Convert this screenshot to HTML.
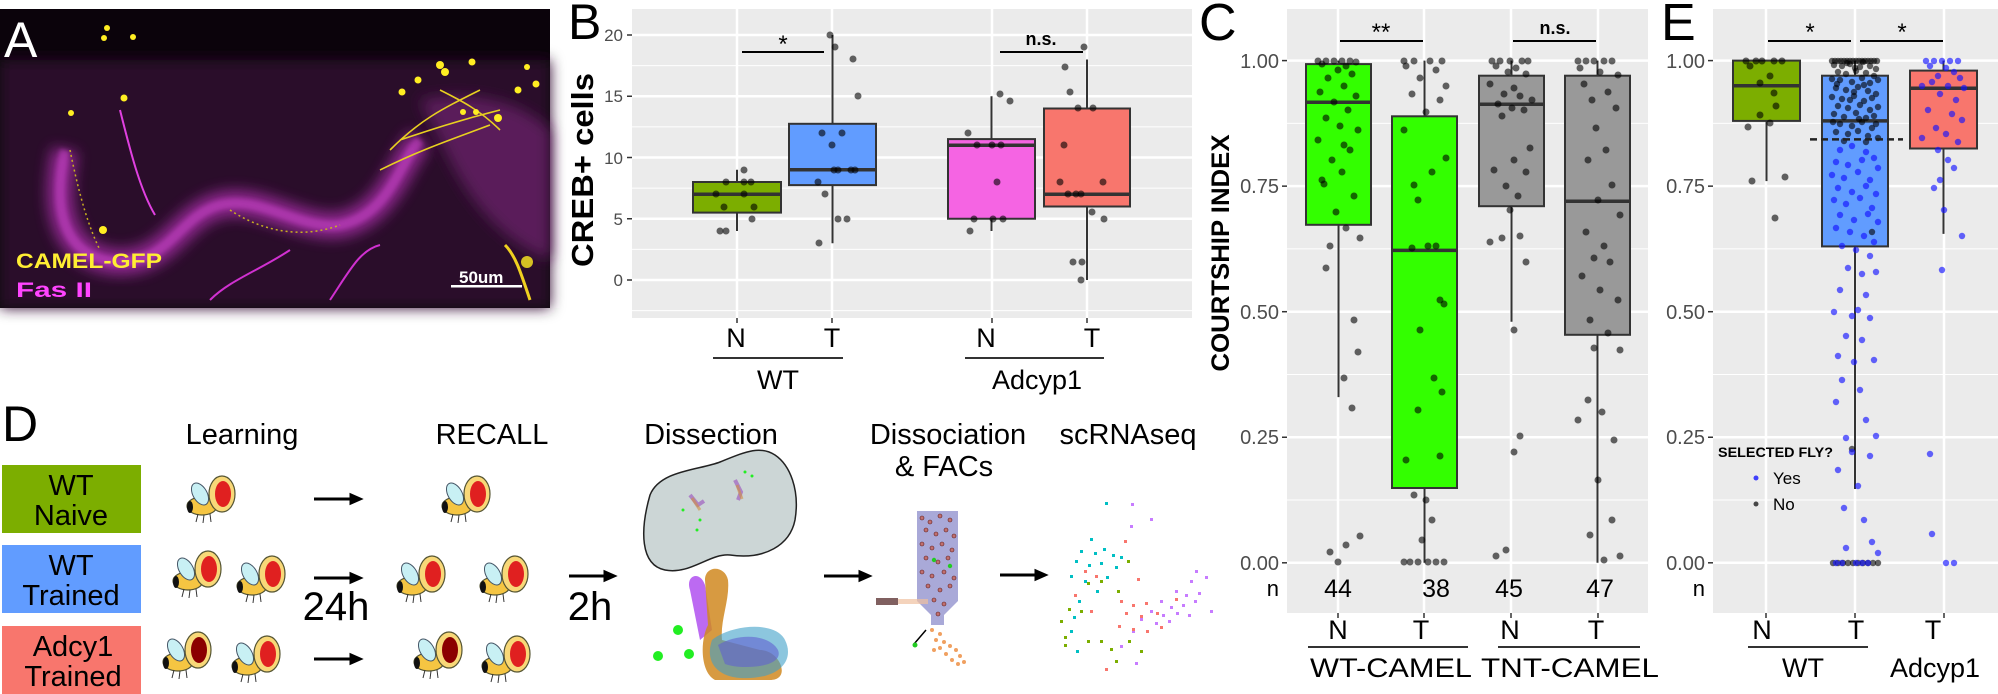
<!DOCTYPE html>
<html><head><meta charset="utf-8"><style>
html,body{margin:0;padding:0;background:#fff;}
svg{display:block;font-family:"Liberation Sans",sans-serif;}
.k{fill:rgba(0,0,0,0.6)}
.b{fill:rgba(20,20,255,0.65)}
.gw{stroke:#fff;stroke-width:2.5}
.gm{stroke:#fff;stroke-width:1}
.tk{stroke:#333;stroke-width:1.5}
.tl{fill:#4d4d4d;font-size:20px;text-anchor:end}
.bx{stroke:#333;stroke-width:2}
.md{stroke:#333;stroke-width:3.5}
.ax{font-size:27px;text-anchor:middle}
.nn{font-size:25px;text-anchor:middle}
</style></head><body>
<svg width="1998" height="694" viewBox="0 0 1998 694" xmlns="http://www.w3.org/2000/svg">
<defs>
<filter id="bl" x="-20%" y="-20%" width="140%" height="140%"><feGaussianBlur stdDeviation="7"/></filter>
<filter id="bl2"><feGaussianBlur stdDeviation="2"/></filter>
<g id="fly">
<ellipse cx="-8" cy="6" rx="15" ry="9" fill="#f5c542" stroke="#553" stroke-width="1.2"/>
<ellipse cx="-20" cy="7" rx="3" ry="6" fill="#111"/>
<ellipse cx="-10" cy="-6" rx="7" ry="12" fill="#c8f0f4" stroke="#456" stroke-width="1" transform="rotate(-30 -10 -6)"/>
<ellipse cx="12" cy="-6" rx="13" ry="18" fill="#f8d878" stroke="#553" stroke-width="1.2"/>
<path d="M-12,14 l-2,8 M-6,15 l-1,8 M0,14 l1,8" stroke="#333" stroke-width="1"/>
</g>
</defs>
<!-- Panel A -->
<rect x="0" y="9" width="550" height="299" fill="#0b030b"/>
<rect x="0" y="60" width="550" height="248" fill="#2a0a2a" filter="url(#bl)"/>
<path d="M65,150 C50,220 70,260 120,262 C170,262 180,215 220,205 C260,195 300,230 340,225 C390,215 400,160 420,140" stroke="#9a2a9a" stroke-width="26" fill="none" filter="url(#bl)" opacity="0.9"/>
<path d="M65,150 C50,220 70,260 120,262 C170,262 180,215 220,205 C260,195 300,230 340,225 C390,215 400,160 420,140" stroke="#c040c0" stroke-width="10" fill="none" filter="url(#bl2)" opacity="0.6"/>
<path d="M420,100 C470,90 520,100 550,130 L550,260 C500,240 470,200 450,160Z" fill="#5a1a5a" filter="url(#bl)"/>
<path d="M120,110 C130,150 140,190 155,215" stroke="#e040e0" stroke-width="2" fill="none"/>
<path d="M210,300 C230,280 260,270 290,250 M330,300 C350,270 360,250 380,245" stroke="#d030d0" stroke-width="2" fill="none"/>
<path d="M390,150 C420,120 440,110 480,90 M400,140 C430,130 460,120 500,110 M380,170 C420,150 450,140 490,125 M440,90 C460,100 480,110 500,130" stroke="#e8d020" stroke-width="1.6" fill="none"/>
<path d="M70,150 C80,200 90,230 100,250 M230,210 C260,230 300,240 340,225" stroke="#c8b020" stroke-width="1.5" fill="none" stroke-dasharray="2 3"/>
<path d="M505,245 C515,255 520,270 530,300" stroke="#f0d020" stroke-width="3" fill="none"/>
<g fill="#ffee22">
<circle cx="107" cy="28" r="3"/><circle cx="104" cy="38" r="3"/><circle cx="133" cy="37" r="3"/><circle cx="124" cy="98" r="3.5"/><circle cx="71" cy="113" r="3"/><circle cx="103" cy="230" r="4"/>
<circle cx="440" cy="65" r="4"/><circle cx="445" cy="72" r="4"/><circle cx="418" cy="80" r="3.5"/><circle cx="402" cy="92" r="3.5"/><circle cx="472" cy="62" r="3.5"/><circle cx="527" cy="67" r="3"/><circle cx="536" cy="84" r="3.5"/><circle cx="518" cy="90" r="3.5"/><circle cx="463" cy="112" r="3"/><circle cx="476" cy="112" r="3"/><circle cx="498" cy="118" r="4"/>
<circle cx="527" cy="262" r="6" opacity="0.8"/>
</g>
<text x="4" y="57" font-size="50" fill="#fff">A</text>
<text x="16" y="268" font-size="21" font-weight="bold" fill="#ffee33" textLength="146" lengthAdjust="spacingAndGlyphs">CAMEL-GFP</text>
<text x="16" y="297" font-size="21" font-weight="bold" fill="#ff44ff" textLength="76" lengthAdjust="spacingAndGlyphs">Fas II</text>
<text x="459" y="283" font-size="17" font-weight="bold" fill="#fff">50um</text>
<rect x="451" y="285" width="71" height="2.5" fill="#fff"/>

<!-- Panel B -->
<text x="568" y="39" font-size="50">B</text>
<rect x="632" y="9" width="560" height="309" fill="#ebebeb"/>
<g class="gm"><line x1="632" x2="1192" y1="310.6" y2="310.6"/><line x1="632" x2="1192" y1="249.4" y2="249.4"/><line x1="632" x2="1192" y1="188.1" y2="188.1"/><line x1="632" x2="1192" y1="126.9" y2="126.9"/><line x1="632" x2="1192" y1="65.6" y2="65.6"/></g>
<g class="gw"><line x1="632" x2="1192" y1="280" y2="280"/><line x1="632" x2="1192" y1="218.75" y2="218.75"/><line x1="632" x2="1192" y1="157.5" y2="157.5"/><line x1="632" x2="1192" y1="96.25" y2="96.25"/><line x1="632" x2="1192" y1="35" y2="35"/>
<line x1="737" x2="737" y1="9" y2="318"/><line x1="832" x2="832" y1="9" y2="318"/><line x1="992" x2="992" y1="9" y2="318"/><line x1="1087" x2="1087" y1="9" y2="318"/></g>
<g class="tk"><line x1="627" x2="632" y1="280" y2="280"/><line x1="627" x2="632" y1="218.75" y2="218.75"/><line x1="627" x2="632" y1="157.5" y2="157.5"/><line x1="627" x2="632" y1="96.25" y2="96.25"/><line x1="627" x2="632" y1="35" y2="35"/>
<line x1="737" x2="737" y1="318" y2="323"/><line x1="832" x2="832" y1="318" y2="323"/><line x1="992" x2="992" y1="318" y2="323"/><line x1="1087" x2="1087" y1="318" y2="323"/></g>
<g class="tl" style="font-size:17px"><text x="623" y="286">0</text><text x="623" y="225">5</text><text x="623" y="164">10</text><text x="623" y="102">15</text><text x="623" y="41">20</text></g>
<text transform="translate(593,170) rotate(-90)" text-anchor="middle" font-size="31" font-weight="bold" textLength="194" lengthAdjust="spacingAndGlyphs">CREB+ cells</text>
<g class="bx">
<line x1="737" x2="737" y1="169.75" y2="231"/><rect x="693" y="182" width="88" height="30.6" fill="#7cae00"/>
<line x1="832.5" x2="832.5" y1="35" y2="243.25"/><rect x="789" y="123.8" width="87" height="61.3" fill="#619cff"/>
<line x1="991.5" x2="991.5" y1="96.25" y2="231"/><rect x="948" y="139.1" width="87" height="79.65" fill="#f564e3"/>
<line x1="1087" x2="1087" y1="59.5" y2="280"/><rect x="1044" y="108.5" width="86" height="98" fill="#f8766d"/>
</g>
<g class="md"><line x1="693" x2="781" y1="194.25" y2="194.25"/><line x1="789" x2="876" y1="169.75" y2="169.75"/><line x1="948" x2="1035" y1="145.25" y2="145.25"/><line x1="1044" x2="1130" y1="194.25" y2="194.25"/></g>
<g class="k">
<circle cx="720" cy="231" r="3.5"/><circle cx="726" cy="231" r="3.5"/><circle cx="752" cy="219" r="3.5"/><circle cx="724" cy="207" r="3.5"/><circle cx="754" cy="207" r="3.5"/><circle cx="716" cy="194" r="3.5"/><circle cx="744" cy="194" r="3.5"/><circle cx="726" cy="182" r="3.5"/><circle cx="744" cy="182" r="3.5"/><circle cx="751" cy="182" r="3.5"/><circle cx="744" cy="170" r="3.5"/>
<circle cx="819" cy="243" r="3.5"/><circle cx="838" cy="219" r="3.5"/><circle cx="847" cy="219" r="3.5"/><circle cx="825" cy="194" r="3.5"/><circle cx="818" cy="182" r="3.5"/><circle cx="834" cy="170" r="3.5"/><circle cx="838" cy="170" r="3.5"/><circle cx="851" cy="170" r="3.5"/><circle cx="855" cy="170" r="3.5"/><circle cx="832" cy="145" r="3.5"/><circle cx="822" cy="133" r="3.5"/><circle cx="842" cy="133" r="3.5"/><circle cx="858" cy="96" r="3.5"/><circle cx="853" cy="59" r="3.5"/><circle cx="835" cy="47" r="3.5"/><circle cx="830" cy="35" r="3.5"/>
<circle cx="970" cy="231" r="3.5"/><circle cx="974" cy="219" r="3.5"/><circle cx="993" cy="219" r="3.5"/><circle cx="1003" cy="219" r="3.5"/><circle cx="997" cy="182" r="3.5"/><circle cx="977" cy="145" r="3.5"/><circle cx="992" cy="145" r="3.5"/><circle cx="1001" cy="145" r="3.5"/><circle cx="968" cy="133" r="3.5"/><circle cx="1010" cy="101" r="3.5"/><circle cx="1000" cy="94" r="3.5"/>
<circle cx="1081" cy="280" r="3.5"/><circle cx="1073" cy="262" r="3.5"/><circle cx="1082" cy="262" r="3.5"/><circle cx="1104" cy="219" r="3.5"/><circle cx="1092" cy="212" r="3.5"/><circle cx="1068" cy="194" r="3.5"/><circle cx="1076" cy="194" r="3.5"/><circle cx="1081" cy="194" r="3.5"/><circle cx="1060" cy="182" r="3.5"/><circle cx="1103" cy="182" r="3.5"/><circle cx="1064" cy="145" r="3.5"/><circle cx="1078" cy="108" r="3.5"/><circle cx="1093" cy="108" r="3.5"/><circle cx="1070" cy="92" r="3.5"/><circle cx="1065" cy="67" r="3.5"/><circle cx="1084" cy="47" r="3.5"/>
</g>
<line x1="742" x2="824" y1="52" y2="52" stroke="#000" stroke-width="2"/>
<text x="783" y="52" font-size="24" text-anchor="middle">*</text>
<line x1="1000" x2="1083" y1="52" y2="52" stroke="#000" stroke-width="2"/>
<text x="1041" y="45" font-size="18" font-weight="bold" text-anchor="middle">n.s.</text>
<g class="ax"><text x="736" y="347">N</text><text x="832" y="347">T</text><text x="986" y="347">N</text><text x="1092" y="347">T</text><text x="778" y="389">WT</text><text x="1037" y="389">Adcyp1</text></g>
<line x1="713" x2="843" y1="358" y2="358" stroke="#333" stroke-width="2"/>
<line x1="965" x2="1104" y1="358" y2="358" stroke="#333" stroke-width="2"/>

<!-- Panel C -->
<text x="1199" y="40" font-size="52">C</text>
<rect x="1287" y="9" width="361" height="604" fill="#ebebeb"/>
<g class="gm"><line x1="1287" x2="1648" y1="500" y2="500"/><line x1="1287" x2="1648" y1="374.5" y2="374.5"/><line x1="1287" x2="1648" y1="248.9" y2="248.9"/><line x1="1287" x2="1648" y1="123.4" y2="123.4"/></g>
<g class="gw"><line x1="1287" x2="1648" y1="562.8" y2="562.8"/><line x1="1287" x2="1648" y1="437.25" y2="437.25"/><line x1="1287" x2="1648" y1="311.7" y2="311.7"/><line x1="1287" x2="1648" y1="186.15" y2="186.15"/><line x1="1287" x2="1648" y1="60.6" y2="60.6"/>
<line x1="1338" x2="1338" y1="9" y2="613"/><line x1="1424" x2="1424" y1="9" y2="613"/><line x1="1511" x2="1511" y1="9" y2="613"/><line x1="1598" x2="1598" y1="9" y2="613"/></g>
<g class="tk"><line x1="1282" x2="1287" y1="562.8" y2="562.8"/><line x1="1282" x2="1287" y1="437.25" y2="437.25"/><line x1="1282" x2="1287" y1="311.7" y2="311.7"/><line x1="1282" x2="1287" y1="186.15" y2="186.15"/><line x1="1282" x2="1287" y1="60.6" y2="60.6"/>
<line x1="1338" x2="1338" y1="613" y2="618"/><line x1="1424" x2="1424" y1="613" y2="618"/><line x1="1511" x2="1511" y1="613" y2="618"/><line x1="1598" x2="1598" y1="613" y2="618"/></g>
<g class="tl"><text x="1279" y="570">0.00</text><text x="1279" y="444">0.25</text><text x="1279" y="319">0.50</text><text x="1279" y="193">0.75</text><text x="1279" y="68">1.00</text><text x="1279" y="596" style="fill:#000;font-size:22px">n</text></g>
<text transform="translate(1229,253) rotate(-90)" text-anchor="middle" font-size="25" font-weight="bold" textLength="237" lengthAdjust="spacingAndGlyphs">COURTSHIP INDEX</text>
<g class="bx">
<line x1="1338.5" x2="1338.5" y1="60.6" y2="397.1"/><rect x="1306" y="64.1" width="65" height="160.7" fill="#33ff00"/>
<line x1="1424.5" x2="1424.5" y1="60.6" y2="562.8"/><rect x="1392" y="116.3" width="65" height="371.7" fill="#33ff00"/>
<line x1="1511.5" x2="1511.5" y1="60.6" y2="321.7"/><rect x="1479" y="75.7" width="65" height="130.5" fill="#999"/>
<line x1="1597.5" x2="1597.5" y1="60.6" y2="562.8"/><rect x="1565" y="75.7" width="65" height="259.1" fill="#999"/>
</g>
<g class="md"><line x1="1306" x2="1371" y1="102.3" y2="102.3"/><line x1="1392" x2="1457" y1="250.4" y2="250.4"/><line x1="1479" x2="1544" y1="104.3" y2="104.3"/><line x1="1565" x2="1630" y1="201.2" y2="201.2"/></g>
<g class="k">
<circle cx="1318" cy="61" r="3.5"/><circle cx="1326" cy="61" r="3.5"/><circle cx="1334" cy="61" r="3.5"/><circle cx="1342" cy="61" r="3.5"/><circle cx="1350" cy="61" r="3.5"/><circle cx="1356" cy="62" r="3.5"/><circle cx="1322" cy="64" r="3.5"/><circle cx="1346" cy="66" r="3.5"/><circle cx="1338" cy="70" r="3.5"/><circle cx="1352" cy="74" r="3.5"/><circle cx="1328" cy="78" r="3.5"/><circle cx="1344" cy="86" r="3.5"/><circle cx="1320" cy="92" r="3.5"/><circle cx="1356" cy="96" r="3.5"/><circle cx="1334" cy="102" r="3.5"/><circle cx="1348" cy="110" r="3.5"/><circle cx="1326" cy="118" r="3.5"/><circle cx="1340" cy="126" r="3.5"/><circle cx="1358" cy="130" r="3.5"/><circle cx="1318" cy="140" r="3.5"/><circle cx="1350" cy="150" r="3.5"/><circle cx="1332" cy="160" r="3.5"/><circle cx="1342" cy="172" r="3.5"/><circle cx="1324" cy="184" r="3.5"/><circle cx="1354" cy="196" r="3.5"/><circle cx="1336" cy="212" r="3.5"/><circle cx="1346" cy="228" r="3.5"/><circle cx="1360" cy="238" r="3.5"/><circle cx="1330" cy="246" r="3.5"/><circle cx="1326" cy="268" r="3.5"/><circle cx="1354" cy="320" r="3.5"/><circle cx="1358" cy="352" r="3.5"/><circle cx="1344" cy="378" r="3.5"/><circle cx="1352" cy="408" r="3.5"/><circle cx="1330" cy="552" r="3.5"/><circle cx="1338" cy="562" r="3.5"/><circle cx="1346" cy="545" r="3.5"/><circle cx="1360" cy="536" r="3.5"/><circle cx="1322" cy="180" r="3.5"/><circle cx="1344" cy="145" r="3.5"/>
<circle cx="1404" cy="61" r="3.5"/><circle cx="1414" cy="61" r="3.5"/><circle cx="1430" cy="61" r="3.5"/><circle cx="1442" cy="61" r="3.5"/><circle cx="1406" cy="66" r="3.5"/><circle cx="1436" cy="70" r="3.5"/><circle cx="1420" cy="78" r="3.5"/><circle cx="1446" cy="86" r="3.5"/><circle cx="1412" cy="94" r="3.5"/><circle cx="1440" cy="100" r="3.5"/><circle cx="1426" cy="112" r="3.5"/><circle cx="1404" cy="130" r="3.5"/><circle cx="1446" cy="158" r="3.5"/><circle cx="1432" cy="172" r="3.5"/><circle cx="1414" cy="185" r="3.5"/><circle cx="1418" cy="200" r="3.5"/><circle cx="1428" cy="246" r="3.5"/><circle cx="1412" cy="248" r="3.5"/><circle cx="1436" cy="246" r="3.5"/><circle cx="1440" cy="300" r="3.5"/><circle cx="1444" cy="304" r="3.5"/><circle cx="1420" cy="330" r="3.5"/><circle cx="1434" cy="378" r="3.5"/><circle cx="1442" cy="392" r="3.5"/><circle cx="1418" cy="410" r="3.5"/><circle cx="1406" cy="460" r="3.5"/><circle cx="1440" cy="456" r="3.5"/><circle cx="1414" cy="495" r="3.5"/><circle cx="1426" cy="500" r="3.5"/><circle cx="1432" cy="520" r="3.5"/><circle cx="1404" cy="562" r="3.5"/><circle cx="1410" cy="562" r="3.5"/><circle cx="1418" cy="562" r="3.5"/><circle cx="1428" cy="562" r="3.5"/><circle cx="1436" cy="562" r="3.5"/><circle cx="1444" cy="562" r="3.5"/><circle cx="1422" cy="540" r="3.5"/>
<circle cx="1492" cy="61" r="3.5"/><circle cx="1500" cy="61" r="3.5"/><circle cx="1510" cy="61" r="3.5"/><circle cx="1522" cy="61" r="3.5"/><circle cx="1528" cy="61" r="3.5"/><circle cx="1496" cy="66" r="3.5"/><circle cx="1516" cy="68" r="3.5"/><circle cx="1508" cy="72" r="3.5"/><circle cx="1526" cy="74" r="3.5"/><circle cx="1490" cy="84" r="3.5"/><circle cx="1514" cy="88" r="3.5"/><circle cx="1504" cy="94" r="3.5"/><circle cx="1520" cy="96" r="3.5"/><circle cx="1532" cy="100" r="3.5"/><circle cx="1498" cy="104" r="3.5"/><circle cx="1512" cy="108" r="3.5"/><circle cx="1524" cy="110" r="3.5"/><circle cx="1502" cy="116" r="3.5"/><circle cx="1530" cy="148" r="3.5"/><circle cx="1514" cy="160" r="3.5"/><circle cx="1494" cy="170" r="3.5"/><circle cx="1526" cy="172" r="3.5"/><circle cx="1506" cy="186" r="3.5"/><circle cx="1518" cy="196" r="3.5"/><circle cx="1510" cy="210" r="3.5"/><circle cx="1490" cy="242" r="3.5"/><circle cx="1520" cy="236" r="3.5"/><circle cx="1502" cy="238" r="3.5"/><circle cx="1526" cy="262" r="3.5"/><circle cx="1514" cy="330" r="3.5"/><circle cx="1520" cy="436" r="3.5"/><circle cx="1514" cy="452" r="3.5"/><circle cx="1496" cy="556" r="3.5"/><circle cx="1506" cy="550" r="3.5"/>
<circle cx="1578" cy="61" r="3.5"/><circle cx="1586" cy="61" r="3.5"/><circle cx="1594" cy="61" r="3.5"/><circle cx="1604" cy="61" r="3.5"/><circle cx="1612" cy="61" r="3.5"/><circle cx="1580" cy="68" r="3.5"/><circle cx="1600" cy="72" r="3.5"/><circle cx="1618" cy="75" r="3.5"/><circle cx="1584" cy="84" r="3.5"/><circle cx="1608" cy="92" r="3.5"/><circle cx="1592" cy="100" r="3.5"/><circle cx="1616" cy="108" r="3.5"/><circle cx="1596" cy="128" r="3.5"/><circle cx="1606" cy="150" r="3.5"/><circle cx="1588" cy="160" r="3.5"/><circle cx="1612" cy="185" r="3.5"/><circle cx="1598" cy="200" r="3.5"/><circle cx="1620" cy="215" r="3.5"/><circle cx="1586" cy="232" r="3.5"/><circle cx="1604" cy="246" r="3.5"/><circle cx="1594" cy="258" r="3.5"/><circle cx="1610" cy="262" r="3.5"/><circle cx="1582" cy="276" r="3.5"/><circle cx="1600" cy="290" r="3.5"/><circle cx="1618" cy="300" r="3.5"/><circle cx="1590" cy="320" r="3.5"/><circle cx="1608" cy="333" r="3.5"/><circle cx="1594" cy="348" r="3.5"/><circle cx="1620" cy="350" r="3.5"/><circle cx="1588" cy="400" r="3.5"/><circle cx="1602" cy="412" r="3.5"/><circle cx="1578" cy="420" r="3.5"/><circle cx="1614" cy="440" r="3.5"/><circle cx="1598" cy="480" r="3.5"/><circle cx="1612" cy="520" r="3.5"/><circle cx="1590" cy="535" r="3.5"/><circle cx="1620" cy="556" r="3.5"/><circle cx="1604" cy="560" r="3.5"/>
</g>
<line x1="1340" x2="1423" y1="41" y2="41" stroke="#000" stroke-width="2"/>
<text x="1381" y="40" font-size="24" text-anchor="middle">**</text>
<line x1="1513" x2="1596" y1="41" y2="41" stroke="#000" stroke-width="2"/>
<text x="1555" y="34" font-size="18" font-weight="bold" text-anchor="middle">n.s.</text>
<g class="nn"><text x="1338" y="597">44</text><text x="1436" y="597">38</text><text x="1509" y="597">45</text><text x="1600" y="597">47</text><text x="1780" y="597">16</text><text x="1867" y="597">232</text><text x="1942" y="597">44</text></g>
<g class="ax"><text x="1338" y="639">N</text><text x="1421" y="639">T</text><text x="1510" y="639">N</text><text x="1596" y="639">T</text><text x="1762" y="639">N</text><text x="1856" y="639">T</text><text x="1933" y="639">T</text>
<text x="1391" y="677" textLength="162" lengthAdjust="spacingAndGlyphs">WT-CAMEL</text><text x="1570" y="677" textLength="178" lengthAdjust="spacingAndGlyphs">TNT-CAMEL</text><text x="1803" y="677">WT</text><text x="1935" y="677">Adcyp1</text></g>
<g stroke="#333" stroke-width="2"><line x1="1308" x2="1468" y1="647" y2="647"/><line x1="1498" x2="1640" y1="647" y2="647"/><line x1="1748" x2="1868" y1="647" y2="647"/></g>

<!-- Panel E -->
<text x="1661" y="40" font-size="52">E</text>
<rect x="1713" y="9" width="285" height="604" fill="#ebebeb"/>
<g class="gm"><line x1="1713" x2="1998" y1="500" y2="500"/><line x1="1713" x2="1998" y1="374.5" y2="374.5"/><line x1="1713" x2="1998" y1="248.9" y2="248.9"/><line x1="1713" x2="1998" y1="123.4" y2="123.4"/></g>
<g class="gw"><line x1="1713" x2="1998" y1="562.8" y2="562.8"/><line x1="1713" x2="1998" y1="437.25" y2="437.25"/><line x1="1713" x2="1998" y1="311.7" y2="311.7"/><line x1="1713" x2="1998" y1="186.15" y2="186.15"/><line x1="1713" x2="1998" y1="60.6" y2="60.6"/>
<line x1="1766" x2="1766" y1="9" y2="613"/><line x1="1855" x2="1855" y1="9" y2="613"/><line x1="1944" x2="1944" y1="9" y2="613"/></g>
<g class="tk"><line x1="1708" x2="1713" y1="562.8" y2="562.8"/><line x1="1708" x2="1713" y1="437.25" y2="437.25"/><line x1="1708" x2="1713" y1="311.7" y2="311.7"/><line x1="1708" x2="1713" y1="186.15" y2="186.15"/><line x1="1708" x2="1713" y1="60.6" y2="60.6"/>
<line x1="1766" x2="1766" y1="613" y2="618"/><line x1="1855" x2="1855" y1="613" y2="618"/><line x1="1944" x2="1944" y1="613" y2="618"/></g>
<g class="tl"><text x="1705" y="570">0.00</text><text x="1705" y="444">0.25</text><text x="1705" y="319">0.50</text><text x="1705" y="193">0.75</text><text x="1705" y="68">1.00</text><text x="1705" y="596" style="fill:#000;font-size:22px">n</text></g>
<g class="bx">
<line x1="1766.5" x2="1766.5" y1="60.6" y2="181.1"/><rect x="1733" y="60.6" width="67" height="60.3" fill="#7cae00"/>
<line x1="1855" x2="1855" y1="60.6" y2="489"/><rect x="1822" y="75.7" width="66" height="170.7" fill="#619cff"/>
<line x1="1943.5" x2="1943.5" y1="60.6" y2="233.9"/><rect x="1910" y="70.6" width="67" height="77.9" fill="#f8766d"/>
</g>
<g class="md"><line x1="1733" x2="1800" y1="85.7" y2="85.7"/><line x1="1822" x2="1888" y1="120.9" y2="120.9"/><line x1="1910" x2="1977" y1="88.2" y2="88.2"/></g>
<g class="k">
<circle cx="1746" cy="61" r="3.5"/><circle cx="1756" cy="61" r="3.5"/><circle cx="1762" cy="61" r="3.5"/><circle cx="1774" cy="61" r="3.5"/><circle cx="1782" cy="61" r="3.5"/><circle cx="1750" cy="66" r="3.5"/><circle cx="1770" cy="76" r="3.5"/><circle cx="1760" cy="83" r="3.5"/><circle cx="1774" cy="93" r="3.5"/><circle cx="1776" cy="106" r="3.5"/><circle cx="1760" cy="115" r="3.5"/><circle cx="1770" cy="123" r="3.5"/><circle cx="1748" cy="127" r="3.5"/><circle cx="1752" cy="181" r="3.5"/><circle cx="1785" cy="177" r="3.5"/><circle cx="1775" cy="218" r="3.5"/>
<circle cx="1832" cy="61" r="3.2"/><circle cx="1835" cy="61" r="3.2"/><circle cx="1838" cy="61" r="3.2"/><circle cx="1841" cy="61" r="3.2"/><circle cx="1844" cy="61" r="3.2"/><circle cx="1847" cy="61" r="3.2"/><circle cx="1850" cy="61" r="3.2"/><circle cx="1853" cy="61" r="3.2"/><circle cx="1856" cy="61" r="3.2"/><circle cx="1859" cy="61" r="3.2"/><circle cx="1862" cy="61" r="3.2"/><circle cx="1865" cy="61" r="3.2"/><circle cx="1868" cy="61" r="3.2"/><circle cx="1871" cy="61" r="3.2"/><circle cx="1874" cy="61" r="3.2"/><circle cx="1877" cy="61" r="3.2"/>
<circle cx="1834" cy="65" r="3.2"/><circle cx="1842" cy="66" r="3.2"/><circle cx="1850" cy="64" r="3.2"/><circle cx="1860" cy="67" r="3.2"/><circle cx="1870" cy="66" r="3.2"/><circle cx="1876" cy="69" r="3.2"/><circle cx="1838" cy="72" r="3.2"/><circle cx="1846" cy="74" r="3.2"/><circle cx="1856" cy="71" r="3.2"/><circle cx="1866" cy="73" r="3.2"/><circle cx="1874" cy="76" r="3.2"/><circle cx="1832" cy="79" r="3.2"/><circle cx="1840" cy="80" r="3.2"/><circle cx="1852" cy="82" r="3.2"/><circle cx="1862" cy="78" r="3.2"/><circle cx="1870" cy="83" r="3.2"/><circle cx="1878" cy="80" r="3.2"/><circle cx="1836" cy="88" r="3.2"/><circle cx="1846" cy="90" r="3.2"/><circle cx="1858" cy="87" r="3.2"/><circle cx="1868" cy="91" r="3.2"/><circle cx="1876" cy="94" r="3.2"/><circle cx="1832" cy="97" r="3.2"/><circle cx="1842" cy="99" r="3.2"/><circle cx="1854" cy="96" r="3.2"/><circle cx="1864" cy="101" r="3.2"/><circle cx="1872" cy="98" r="3.2"/><circle cx="1838" cy="106" r="3.2"/><circle cx="1848" cy="108" r="3.2"/><circle cx="1860" cy="105" r="3.2"/><circle cx="1870" cy="110" r="3.2"/><circle cx="1878" cy="107" r="3.2"/><circle cx="1834" cy="114" r="3.2"/><circle cx="1844" cy="117" r="3.2"/><circle cx="1856" cy="113" r="3.2"/><circle cx="1866" cy="118" r="3.2"/><circle cx="1874" cy="116" r="3.2"/><circle cx="1840" cy="124" r="3.2"/><circle cx="1852" cy="126" r="3.2"/><circle cx="1862" cy="122" r="3.2"/><circle cx="1872" cy="128" r="3.2"/><circle cx="1836" cy="132" r="3.2"/><circle cx="1848" cy="134" r="3.2"/><circle cx="1858" cy="131" r="3.2"/><circle cx="1868" cy="136" r="3.2"/><circle cx="1878" cy="138" r="3.2"/><circle cx="1844" cy="141" r="3.2"/><circle cx="1854" cy="92" r="3.2"/><circle cx="1864" cy="85" r="3.2"/><circle cx="1850" cy="100" r="3.2"/><circle cx="1847" cy="63" r="3.2"/><circle cx="1855" cy="68" r="3.2"/><circle cx="1863" cy="62" r="3.2"/><circle cx="1837" cy="84" r="3.2"/><circle cx="1859" cy="119" r="3.2"/><circle cx="1876" cy="124" r="3.2"/><circle cx="1833" cy="122" r="3.2"/><circle cx="1866" cy="142" r="3.2"/>
<circle cx="1833" cy="563" r="3.2"/><circle cx="1838" cy="563" r="3.2"/><circle cx="1843" cy="563" r="3.2"/><circle cx="1848" cy="563" r="3.2"/><circle cx="1853" cy="563" r="3.2"/><circle cx="1858" cy="563" r="3.2"/><circle cx="1863" cy="563" r="3.2"/><circle cx="1868" cy="563" r="3.2"/><circle cx="1873" cy="563" r="3.2"/><circle cx="1878" cy="563" r="3.2"/><circle cx="1852" cy="449" r="3.2"/><circle cx="1872" cy="232" r="3.2"/>
</g>
<g class="b">
<circle cx="1840" cy="150" r="3.2"/><circle cx="1852" cy="146" r="3.2"/><circle cx="1866" cy="152" r="3.2"/><circle cx="1874" cy="158" r="3.2"/><circle cx="1836" cy="162" r="3.2"/><circle cx="1848" cy="165" r="3.2"/><circle cx="1862" cy="160" r="3.2"/><circle cx="1878" cy="168" r="3.2"/><circle cx="1832" cy="175" r="3.2"/><circle cx="1844" cy="178" r="3.2"/><circle cx="1858" cy="172" r="3.2"/><circle cx="1870" cy="180" r="3.2"/><circle cx="1838" cy="188" r="3.2"/><circle cx="1852" cy="192" r="3.2"/><circle cx="1866" cy="186" r="3.2"/><circle cx="1876" cy="194" r="3.2"/><circle cx="1834" cy="200" r="3.2"/><circle cx="1846" cy="204" r="3.2"/><circle cx="1860" cy="198" r="3.2"/><circle cx="1872" cy="208" r="3.2"/><circle cx="1840" cy="215" r="3.2"/><circle cx="1854" cy="220" r="3.2"/><circle cx="1868" cy="214" r="3.2"/><circle cx="1878" cy="222" r="3.2"/><circle cx="1836" cy="228" r="3.2"/><circle cx="1850" cy="232" r="3.2"/><circle cx="1864" cy="236" r="3.2"/><circle cx="1874" cy="242" r="3.2"/><circle cx="1842" cy="246" r="3.2"/><circle cx="1856" cy="250" r="3.2"/><circle cx="1870" cy="256" r="3.2"/><circle cx="1848" cy="268" r="3.2"/><circle cx="1862" cy="274" r="3.2"/><circle cx="1876" cy="272" r="3.2"/><circle cx="1840" cy="290" r="3.2"/><circle cx="1866" cy="295" r="3.2"/><circle cx="1858" cy="310" r="3.2"/><circle cx="1834" cy="312" r="3.2"/><circle cx="1852" cy="316" r="3.2"/><circle cx="1870" cy="318" r="3.2"/><circle cx="1846" cy="336" r="3.2"/><circle cx="1862" cy="340" r="3.2"/><circle cx="1838" cy="356" r="3.2"/><circle cx="1854" cy="362" r="3.2"/><circle cx="1874" cy="360" r="3.2"/><circle cx="1842" cy="380" r="3.2"/><circle cx="1860" cy="390" r="3.2"/><circle cx="1836" cy="402" r="3.2"/><circle cx="1866" cy="420" r="3.2"/><circle cx="1846" cy="438" r="3.2"/><circle cx="1876" cy="436" r="3.2"/><circle cx="1852" cy="452" r="3.2"/><circle cx="1870" cy="456" r="3.2"/><circle cx="1838" cy="470" r="3.2"/><circle cx="1858" cy="486" r="3.2"/><circle cx="1844" cy="508" r="3.2"/><circle cx="1864" cy="520" r="3.2"/><circle cx="1872" cy="542" r="3.2"/><circle cx="1846" cy="548" r="3.2"/><circle cx="1878" cy="553" r="3.2"/><circle cx="1836" cy="563" r="3.2"/><circle cx="1842" cy="563" r="3.2"/><circle cx="1856" cy="563" r="3.2"/><circle cx="1862" cy="563" r="3.2"/><circle cx="1868" cy="563" r="3.2"/>
<circle cx="1926" cy="61" r="3.2"/><circle cx="1934" cy="61" r="3.2"/><circle cx="1942" cy="61" r="3.2"/><circle cx="1950" cy="61" r="3.2"/><circle cx="1958" cy="61" r="3.2"/><circle cx="1930" cy="66" r="3.2"/><circle cx="1946" cy="68" r="3.2"/><circle cx="1954" cy="72" r="3.2"/><circle cx="1938" cy="76" r="3.2"/><circle cx="1960" cy="78" r="3.2"/><circle cx="1932" cy="82" r="3.2"/><circle cx="1948" cy="86" r="3.2"/><circle cx="1922" cy="86" r="3.2"/><circle cx="1964" cy="88" r="3.2"/><circle cx="1940" cy="94" r="3.2"/><circle cx="1956" cy="100" r="3.2"/><circle cx="1928" cy="110" r="3.2"/><circle cx="1952" cy="114" r="3.2"/><circle cx="1962" cy="120" r="3.2"/><circle cx="1936" cy="128" r="3.2"/><circle cx="1946" cy="134" r="3.2"/><circle cx="1922" cy="138" r="3.2"/><circle cx="1958" cy="142" r="3.2"/><circle cx="1938" cy="150" r="3.2"/><circle cx="1948" cy="160" r="3.2"/><circle cx="1954" cy="168" r="3.2"/><circle cx="1940" cy="180" r="3.2"/><circle cx="1934" cy="188" r="3.2"/><circle cx="1944" cy="210" r="3.2"/><circle cx="1962" cy="236" r="3.2"/><circle cx="1942" cy="270" r="3.2"/><circle cx="1930" cy="454" r="3.2"/><circle cx="1932" cy="534" r="3.2"/><circle cx="1946" cy="563" r="3.2"/><circle cx="1954" cy="563" r="3.2"/>
</g>
<line x1="1810" x2="1903" y1="139.4" y2="139.4" stroke="#222" stroke-width="2.5" stroke-dasharray="7 4"/>
<g stroke="#000" stroke-width="2"><line x1="1768" x2="1851" y1="41" y2="41"/><line x1="1860" x2="1943" y1="41" y2="41"/></g>
<text x="1810" y="40" font-size="24" text-anchor="middle">*</text>
<text x="1902" y="40" font-size="24" text-anchor="middle">*</text>
<text x="1718" y="457" font-size="14" font-weight="bold" textLength="115" lengthAdjust="spacingAndGlyphs">SELECTED FLY?</text>
<circle cx="1756" cy="478" r="2.5" fill="rgba(20,20,255,0.8)"/>
<circle cx="1756" cy="504" r="2.5" fill="rgba(0,0,0,0.7)"/>
<text x="1773" y="484" font-size="17">Yes</text>
<text x="1773" y="510" font-size="17">No</text>

<!-- Panel D -->
<text x="2" y="441" font-size="50">D</text>
<g font-size="29" text-anchor="middle">
<text x="242" y="444">Learning</text><text x="492" y="444">RECALL</text><text x="711" y="444">Dissection</text><text x="948" y="444">Dissociation</text><text x="944" y="476">&amp; FACs</text><text x="1128" y="444">scRNAseq</text>
</g>
<rect x="2" y="465" width="139" height="68" fill="#7cae00"/>
<rect x="2" y="545" width="139" height="68" fill="#619cff"/>
<rect x="2" y="626" width="139" height="68" fill="#f8766d"/>
<g font-size="29" text-anchor="middle">
<text x="71" y="495">WT</text><text x="71" y="525">Naive</text>
<text x="71" y="575">WT</text><text x="71" y="605">Trained</text>
<text x="73" y="656">Adcy1</text><text x="73" y="686">Trained</text>
</g>
<g stroke="#000" stroke-width="3" fill="#000">
<line x1="314" y1="499" x2="352" y2="499"/><path d="M360,499 l-9,-4 v8z"/>
<line x1="314" y1="578" x2="352" y2="578"/><path d="M360,578 l-9,-4 v8z"/>
<line x1="314" y1="659" x2="352" y2="659"/><path d="M360,659 l-9,-4 v8z"/>
<line x1="569" y1="576" x2="606" y2="576"/><path d="M614,576 l-9,-4 v8z"/>
<line x1="824" y1="576" x2="861" y2="576"/><path d="M869,576 l-9,-4 v8z"/>
<line x1="1000" y1="575" x2="1037" y2="575"/><path d="M1045,575 l-9,-4 v8z"/>
</g>
<text x="336" y="620" font-size="40" text-anchor="middle">24h</text>
<text x="590" y="620" font-size="40" text-anchor="middle">2h</text>
<!-- flies -->
<use href="#fly" x="210" y="500"/><ellipse cx="223" cy="494" rx="8" ry="13" fill="#e02020"/>
<use href="#fly" x="465" y="500"/><ellipse cx="478" cy="494" rx="8" ry="13" fill="#e02020"/>
<use href="#fly" x="196" y="575"/><ellipse cx="209" cy="569" rx="8" ry="13" fill="#e02020"/>
<use href="#fly" x="260" y="580"/><ellipse cx="273" cy="574" rx="8" ry="13" fill="#e02020"/>
<use href="#fly" x="420" y="580"/><ellipse cx="433" cy="574" rx="8" ry="13" fill="#e02020"/>
<use href="#fly" x="503" y="580"/><ellipse cx="516" cy="574" rx="8" ry="13" fill="#e02020"/>
<use href="#fly" x="186" y="656"/><ellipse cx="199" cy="650" rx="8" ry="13" fill="#8b0000"/>
<use href="#fly" x="255" y="660"/><ellipse cx="268" cy="654" rx="8" ry="13" fill="#e02020"/>
<use href="#fly" x="437" y="656"/><ellipse cx="450" cy="650" rx="8" ry="13" fill="#8b0000"/>
<use href="#fly" x="505" y="660"/><ellipse cx="518" cy="654" rx="8" ry="13" fill="#e02020"/>
<!-- brain -->
<path d="M650,495 C660,470 700,470 720,462 C745,452 760,445 775,455 C790,465 800,490 795,520 C790,545 765,560 730,555 C710,553 690,575 665,570 C640,565 640,530 650,495Z" fill="#ccd6d6" stroke="#222" stroke-width="1.5"/>
<path d="M690,495 l8,10 l6,-4 M735,480 l6,12 l-3,8" stroke="#a060c0" stroke-width="4" fill="none" opacity="0.7"/>
<path d="M692,498 l8,12 M737,485 l5,14" stroke="#d09040" stroke-width="3" fill="none" opacity="0.6"/>
<g fill="#22ee22"><circle cx="683" cy="510" r="1.5"/><circle cx="700" cy="520" r="1.5"/><circle cx="745" cy="472" r="1.5"/><circle cx="752" cy="476" r="1.5"/><circle cx="697" cy="530" r="1.5"/></g>
<path d="M690,590 C685,575 700,570 705,585 L712,630 L700,640Z" fill="#b050f0" opacity="0.85"/>
<path d="M705,580 C705,565 725,565 728,580 C730,600 720,620 722,640 L760,650 C780,650 792,680 770,680 L715,680 C700,672 700,640 708,625Z" fill="#d08820" opacity="0.85"/>
<path d="M712,640 C730,625 775,620 785,640 C795,660 780,680 740,678 C715,676 705,660 712,640Z" fill="#40a0c8" opacity="0.6"/>
<path d="M718,645 C740,632 770,635 778,650 C785,668 740,670 725,664Z" fill="#6060d0" opacity="0.6"/>
<circle cx="678" cy="630" r="5" fill="#22ee22"/><circle cx="658" cy="656" r="5" fill="#22ee22"/><circle cx="689" cy="654" r="5" fill="#22ee22"/>
<!-- FACS -->
<path d="M917,511 h41 v90 l-14,14 v10 h-13 v-10 l-14,-14z" fill="#a9a9d8"/>
<rect x="876" y="598" width="22" height="7" fill="#806060"/>
<rect x="898" y="599" width="30" height="5" fill="#f0c0a0" opacity="0.7"/>
<path d="M926,630 l-12,14" stroke="#000" stroke-width="1.5"/>
<circle cx="915" cy="645" r="2.5" fill="#22cc22"/>
<g fill="#c07070" stroke="#602020" stroke-width="0.6">
<circle cx="922" cy="518" r="2"/><circle cx="930" cy="522" r="2"/><circle cx="940" cy="516" r="2"/><circle cx="950" cy="520" r="2"/><circle cx="926" cy="530" r="2"/><circle cx="936" cy="534" r="2"/><circle cx="946" cy="530" r="2"/><circle cx="954" cy="536" r="2"/><circle cx="922" cy="544" r="2"/><circle cx="932" cy="548" r="2"/><circle cx="942" cy="544" r="2"/><circle cx="952" cy="550" r="2"/><circle cx="926" cy="558" r="2"/><circle cx="938" cy="562" r="2"/><circle cx="948" cy="558" r="2"/><circle cx="922" cy="572" r="2"/><circle cx="932" cy="576" r="2"/><circle cx="944" cy="572" r="2"/><circle cx="954" cy="578" r="2"/><circle cx="928" cy="586" r="2"/><circle cx="940" cy="590" r="2"/><circle cx="950" cy="586" r="2"/><circle cx="934" cy="600" r="2"/><circle cx="944" cy="604" r="2"/><circle cx="938" cy="614" r="2"/>
</g>
<circle cx="934" cy="560" r="2.2" fill="#22cc22"/><circle cx="950" cy="566" r="2.2" fill="#22cc22"/>
<g fill="#f0a060">
<circle cx="932" cy="630" r="2"/><circle cx="940" cy="634" r="2"/><circle cx="936" cy="640" r="2"/><circle cx="944" cy="642" r="2"/><circle cx="950" cy="646" r="2"/><circle cx="940" cy="648" r="2"/><circle cx="956" cy="650" r="2"/><circle cx="946" cy="654" r="2"/><circle cx="960" cy="656" r="2"/><circle cx="952" cy="660" r="2"/><circle cx="964" cy="662" r="2"/><circle cx="934" cy="650" r="2"/><circle cx="958" cy="664" r="2"/>
</g>
<!-- scRNAseq scatter -->
<g fill="#00bfc4"><rect x="1105" y="502" width="3" height="3"/><rect x="1090" y="538" width="3" height="3"/><rect x="1080" y="550" width="3" height="3"/><rect x="1094" y="552" width="3" height="3"/><rect x="1103" y="548" width="3" height="3"/><rect x="1112" y="554" width="3" height="3"/><rect x="1075" y="560" width="3" height="3"/><rect x="1088" y="564" width="3" height="3"/><rect x="1100" y="562" width="3" height="3"/><rect x="1115" y="566" width="3" height="3"/><rect x="1070" y="575" width="3" height="3"/><rect x="1084" y="580" width="3" height="3"/><rect x="1096" y="590" width="3" height="3"/><rect x="1078" y="600" width="3" height="3"/><rect x="1073" y="616" width="3" height="3"/><rect x="1070" y="630" width="3" height="3"/><rect x="1076" y="650" width="3" height="3"/><rect x="1106" y="576" width="3" height="3"/><rect x="1120" y="556" width="3" height="3"/></g>
<g fill="#c77cff"><rect x="1131" y="503" width="3" height="3"/><rect x="1150" y="518" width="3" height="3"/><rect x="1130" y="525" width="3" height="3"/><rect x="1195" y="570" width="3" height="3"/><rect x="1190" y="580" width="3" height="3"/><rect x="1205" y="576" width="3" height="3"/><rect x="1175" y="590" width="3" height="3"/><rect x="1185" y="594" width="3" height="3"/><rect x="1198" y="592" width="3" height="3"/><rect x="1160" y="600" width="3" height="3"/><rect x="1170" y="606" width="3" height="3"/><rect x="1182" y="604" width="3" height="3"/><rect x="1194" y="600" width="3" height="3"/><rect x="1150" y="610" width="3" height="3"/><rect x="1162" y="614" width="3" height="3"/><rect x="1176" y="612" width="3" height="3"/><rect x="1188" y="614" width="3" height="3"/><rect x="1140" y="618" width="3" height="3"/><rect x="1155" y="622" width="3" height="3"/><rect x="1168" y="620" width="3" height="3"/><rect x="1210" y="610" width="3" height="3"/><rect x="1132" y="630" width="3" height="3"/><rect x="1120" y="645" width="3" height="3"/><rect x="1135" y="662" width="3" height="3"/></g>
<g fill="#f8766d"><rect x="1124" y="540" width="3" height="3"/><rect x="1084" y="570" width="3" height="3"/><rect x="1095" y="575" width="3" height="3"/><rect x="1137" y="578" width="3" height="3"/><rect x="1120" y="600" width="3" height="3"/><rect x="1132" y="604" width="3" height="3"/><rect x="1145" y="602" width="3" height="3"/><rect x="1125" y="612" width="3" height="3"/><rect x="1140" y="615" width="3" height="3"/><rect x="1156" y="612" width="3" height="3"/><rect x="1118" y="625" width="3" height="3"/><rect x="1132" y="628" width="3" height="3"/><rect x="1146" y="630" width="3" height="3"/><rect x="1160" y="626" width="3" height="3"/><rect x="1090" y="610" width="3" height="3"/><rect x="1074" y="594" width="3" height="3"/><rect x="1105" y="668" width="3" height="3"/><rect x="1175" y="598" width="3" height="3"/></g>
<g fill="#7cae00"><rect x="1087" y="582" width="3" height="3"/><rect x="1100" y="580" width="3" height="3"/><rect x="1117" y="590" width="3" height="3"/><rect x="1127" y="560" width="3" height="3"/><rect x="1068" y="608" width="3" height="3"/><rect x="1080" y="610" width="3" height="3"/><rect x="1060" y="620" width="3" height="3"/><rect x="1064" y="636" width="3" height="3"/><rect x="1064" y="644" width="3" height="3"/><rect x="1087" y="640" width="3" height="3"/><rect x="1110" y="648" width="3" height="3"/><rect x="1128" y="640" width="3" height="3"/><rect x="1140" y="650" width="3" height="3"/><rect x="1115" y="660" width="3" height="3"/><rect x="1100" y="640" width="3" height="3"/></g>
</svg>
</body></html>
